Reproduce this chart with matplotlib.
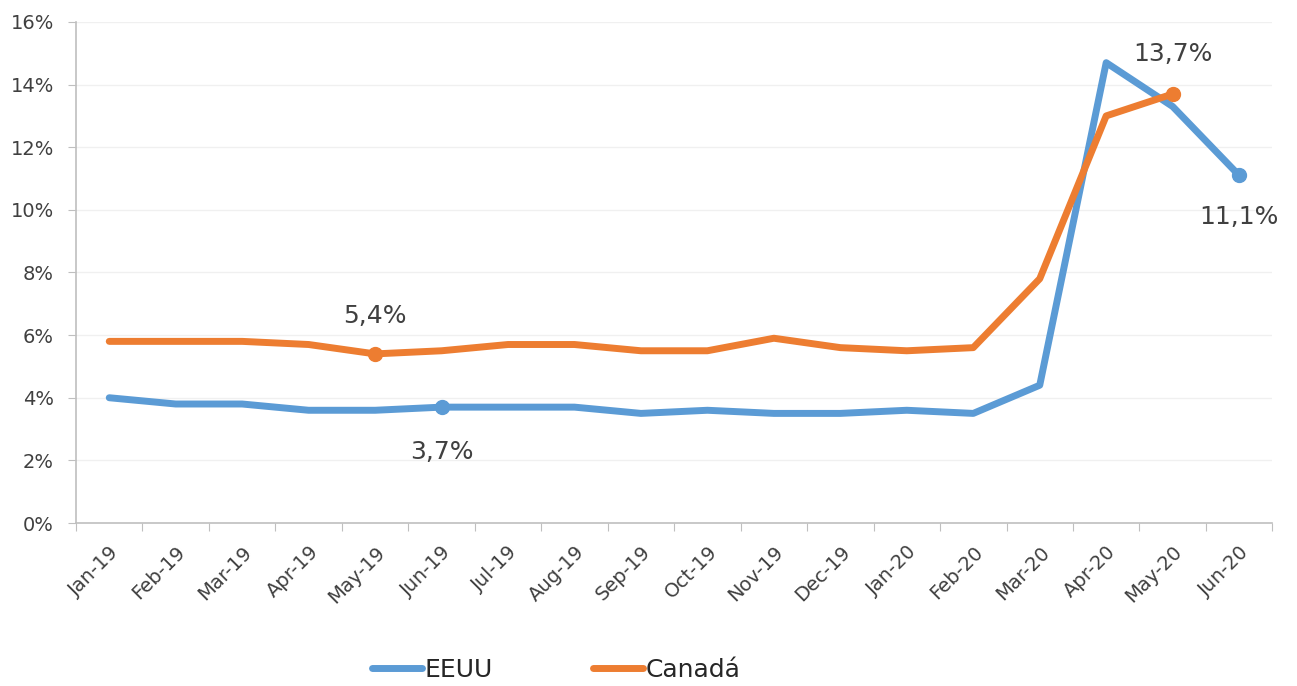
import matplotlib.pyplot as plt
import numpy as np
from matplotlib.ticker import FuncFormatter

months = ['Jan-19', 'Feb-19', 'Mar-19', 'Apr-19', 'May-19', 'Jun-19', 'Jul-19', 'Aug-19',
          'Sep-19', 'Oct-19', 'Nov-19', 'Dec-19', 'Jan-20', 'Feb-20', 'Mar-20', 'Apr-20',
          'May-20', 'Jun-20']
eeuu = [4.0, 3.8, 3.8, 3.6, 3.6, 3.7, 3.7, 3.7, 3.5, 3.6, 3.5, 3.5, 3.6, 3.5, 4.4, 14.7, 13.3, 11.1]
canada = [5.8, 5.8, 5.8, 5.7, 5.4, 5.5, 5.7, 5.7, 5.5, 5.5, 5.9, 5.6, 5.5, 5.6, 7.8, 13.0, 13.7, np.nan]

# highlighted points: (month index, label offset in points)
eeuu_marks = [(5, -32), (17, -30)]
canada_marks = [(4, 27), (16, 29)]

BLUE = '#5B9BD5'
ORANGE = '#ED7D31'

plt.rcParams['font.family'] = ['DejaVu Sans']

fig = plt.figure(figsize=(12.97, 6.86), dpi=100)
ax = fig.add_axes([0.0586, 0.2376, 0.9224, 0.7304])

x = np.arange(len(months))
ax.plot(x, eeuu, color=BLUE, linewidth=5, solid_joinstyle='round', solid_capstyle='round', label='EEUU')
ax.plot(x, canada, color=ORANGE, linewidth=5, solid_joinstyle='round', solid_capstyle='round', label='Canadá')

for i, dy in eeuu_marks:
    ax.plot(x[i], eeuu[i], 'o', color=BLUE, markersize=10)
    ax.annotate(f'{eeuu[i]:.1f}%'.replace('.', ','), (x[i], eeuu[i]),
                textcoords='offset points', xytext=(0, dy),
                ha='center', va='center', fontsize=18, color='#404040')
for i, dy in canada_marks:
    ax.plot(x[i], canada[i], 'o', color=ORANGE, markersize=10)
    ax.annotate(f'{canada[i]:.1f}%'.replace('.', ','), (x[i], canada[i]),
                textcoords='offset points', xytext=(0, dy),
                ha='center', va='center', fontsize=18, color='#404040')

ax.set_xlim(-0.5, len(months) - 0.5)
ax.set_ylim(0, 16)
ax.set_yticks(np.arange(0, 17, 2))
ax.yaxis.set_major_formatter(FuncFormatter(lambda v, p: f'{v:.0f}%'))
ax.grid(axis='y', color='#F0F0F0', linewidth=1)
ax.set_axisbelow(True)

# ticks between categories, labels at centers
ax.set_xticks(np.arange(-0.5, len(months), 1))
ax.set_xticklabels([])
ax.set_xticks(x, minor=True)
ax.set_xticklabels(months, minor=True, rotation=45, ha='right', rotation_mode='anchor')
ax.tick_params(axis='x', which='minor', length=0, pad=14, labelsize=14, labelcolor='#404040')
ax.tick_params(axis='x', which='major', length=6, color='#BFBFBF', direction='out')
ax.tick_params(axis='y', length=6, color='#BFBFBF', pad=10, labelsize=14, labelcolor='#404040')

for side in ['top', 'right']:
    ax.spines[side].set_visible(False)
for side in ['left', 'bottom']:
    ax.spines[side].set_color('#BFBFBF')
    ax.spines[side].set_linewidth(1.2)

leg = fig.legend(loc='center', bbox_to_anchor=(0.429, 0.024), ncol=2, frameon=False,
                 fontsize=18, handlelength=2.0, handletextpad=0.1, columnspacing=4)
for t in leg.get_texts():
    t.set_color('#262626')

fig.savefig('out.png', dpi=100)
